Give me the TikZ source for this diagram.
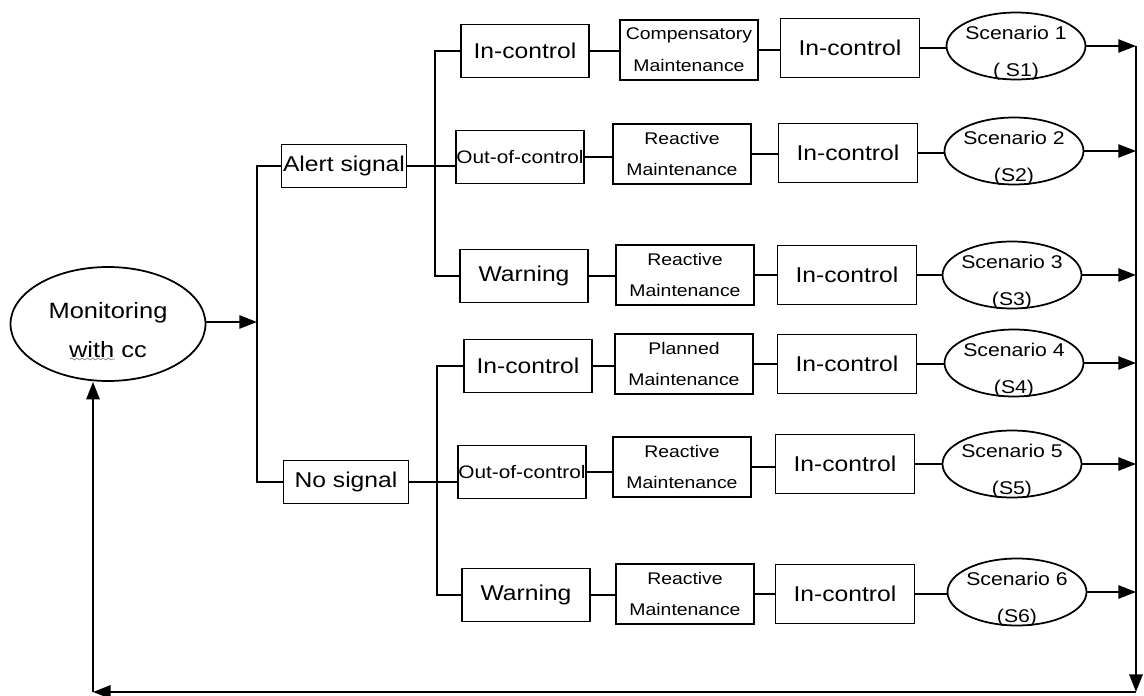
\documentclass[tikz,border=0pt]{standalone}
\usepackage{fontspec}
\setmainfont{Liberation Sans}[FakeStretch=1.15]
\usetikzlibrary{
    arrows.meta,
    shapes.geometric,
    decorations.pathmorphing
}

\tikzset{
    conn/.style={line width=1pt},
    flow/.style={line width=1.4pt, -{Triangle[length=10pt,width=7.5pt]}},
    sigbox/.style={draw, line width=1pt, inner sep=0pt, minimum width=2.5cm, minimum height=0.86cm, font=\fontsize{12.2}{15}\selectfont},
    statebox/.style={draw, line width=1pt, inner sep=0pt, minimum width=2.56cm, minimum height=1.06cm, font=\fontsize{12.2}{15}\selectfont},
    maintbox/.style={draw, line width=1pt, inner sep=0pt, minimum width=2.76cm, minimum height=1.2cm, align=center, font=\fontsize{9.6}{18}\selectfont},
    ctrlbox/.style={draw, line width=1pt, inner sep=0pt, minimum width=2.78cm, minimum height=1.18cm, font=\fontsize{12.2}{15}\selectfont},
    scen/.style={draw, ellipse, line width=1pt, inner xsep=-4pt, inner ysep=-9pt, minimum width=2.78cm, minimum height=1.34cm, align=center, font=\fontsize{10.5}{21}\selectfont}
}

% two lines, pushed down a little
\newcommand{\lowtext}[2]{\rule{0pt}{16pt}#1\\#2}

\begin{document}
\begin{tikzpicture}[x=0.02cm, y=-0.02cm]

\useasboundingbox (0,0) rectangle (1144,696);

% Start
\node[draw, ellipse, line width=1pt, inner sep=0pt, minimum width=3.9cm, minimum height=2.28cm, align=center, font=\fontsize{12.6}{22}\selectfont] (mon) at (108,324) {\lowtext{Monitoring}{with cc}};
\draw[gray, decorate, decoration={snake, amplitude=0.5pt, segment length=3pt}] (70,359) -- (115,359);

% Signals
\node[sigbox] (alert) at (344,166) {Alert signal};
\node[sigbox] (nosig) at (346,482) {No signal};

% First column
\node[statebox] (ic1) at (525,51) {In-control};
\node[statebox, font=\fontsize{10.3}{13}\selectfont] (ooc1) at (520,157) {Out-of-control};
\node[statebox] (warn1) at (524,276) {Warning};
\node[statebox] (ic4) at (528,366) {In-control};
\node[statebox, font=\fontsize{10.3}{13}\selectfont] (ooc2) at (522,472) {Out-of-control};
\node[statebox] (warn2) at (526,595) {Warning};

% Maintenance
\node[maintbox] (m1) at (689,50) {Compensatory\\Maintenance};
\node[maintbox] (m2) at (682,154) {Reactive\\Maintenance};
\node[maintbox] (m3) at (685,275) {Reactive\\Maintenance};
\node[maintbox] (m4) at (684,364) {Planned\\Maintenance};
\node[maintbox] (m5) at (682,467) {Reactive\\Maintenance};
\node[maintbox] (m6) at (685,594) {Reactive\\Maintenance};

% Back in control
\node[ctrlbox] (c1) at (850,48) {In-control};
\node[ctrlbox] (c2) at (848,153) {In-control};
\node[ctrlbox] (c3) at (847,275) {In-control};
\node[ctrlbox] (c4) at (847,364) {In-control};
\node[ctrlbox] (c5) at (845,464) {In-control};
\node[ctrlbox] (c6) at (845,594) {In-control};

% Scenarios
\node[scen] (s1) at (1016,46) {\lowtext{Scenario 1}{( S1)}};
\node[scen] (s2) at (1014,151) {\lowtext{Scenario 2}{(S2)}};
\node[scen] (s3) at (1012,275) {\lowtext{Scenario 3}{(S3)}};
\node[scen] (s4) at (1014,363) {\lowtext{Scenario 4}{(S4)}};
\node[scen] (s5) at (1012,464) {\lowtext{Scenario 5}{(S5)}};
\node[scen] (s6) at (1017,592) {\lowtext{Scenario 6}{(S6)}};

% Buses
\coordinate (trunk) at (257,322);
\coordinate (abus) at (435,166);
\coordinate (nbus) at (437,482);
\coordinate (rtop) at (1136,46);
\coordinate (rbot) at (1136,692);
\coordinate (lbot) at (93,692);

% Branching
\draw[flow, line width=1pt] (mon.east |- trunk) -- (trunk);
\draw[conn] (alert.west) -| (trunk) |- (nosig.west);
\draw[conn] (alert.east) -- (alert.east -| ooc1.west);
\draw[conn] (ic1.west) -| (abus) |- (warn1.west);
\draw[conn] (nosig.east) -- (nosig.east -| ooc2.west);
\draw[conn] (ic4.west) -| (nbus) |- (warn2.west);

% Rows
\draw[conn] (ic1.east) -- (ic1.east -| m1.west);
\draw[conn] (ooc1.east) -- (ooc1.east -| m2.west);
\draw[conn] (warn1.east) -- (warn1.east -| m3.west);
\draw[conn] (ic4.east) -- (ic4.east -| m4.west);
\draw[conn] (ooc2.east) -- (ooc2.east -| m5.west);
\draw[conn] (warn2.east) -- (warn2.east -| m6.west);

\draw[conn] (m1.east) -- (m1.east -| c1.west);
\draw[conn] (m2.east) -- (m2.east -| c2.west);
\draw[conn] (m3.east) -- (m3.east -| c3.west);
\draw[conn] (m4.east) -- (m4.east -| c4.west);
\draw[conn] (m5.east) -- (m5.east -| c5.west);
\draw[conn] (m6.east) -- (m6.east -| c6.west);

\draw[conn] (c1.east) -- (c1.east -| s1.west);
\draw[conn] (c2.east) -- (c2.east -| s2.west);
\draw[conn] (c3.east) -- (c3.east -| s3.west);
\draw[conn] (c4.east) -- (c4.east -| s4.west);
\draw[conn] (c5.east) -- (c5.east -| s5.west);
\draw[conn] (c6.east) -- (c6.east -| s6.west);

% Into the right bus
\draw[flow, line width=1pt] (s1.east) -- (s1.east -| rtop);
\draw[flow, line width=1pt] (s2.east) -- (s2.east -| rtop);
\draw[flow, line width=1pt] (s3.east) -- (s3.east -| rtop);
\draw[flow, line width=1pt] (s4.east) -- (s4.east -| rtop);
\draw[flow, line width=1pt] (s5.east) -- (s5.east -| rtop);
\draw[flow, line width=1pt] (s6.east) -- (s6.east -| rtop);

% Feedback loop
\draw[flow] (rtop) -- (rbot);
\draw[flow] (rbot) -- (lbot);
\draw[flow] (lbot) -- (lbot |- mon.south);

\end{tikzpicture}
\end{document}
